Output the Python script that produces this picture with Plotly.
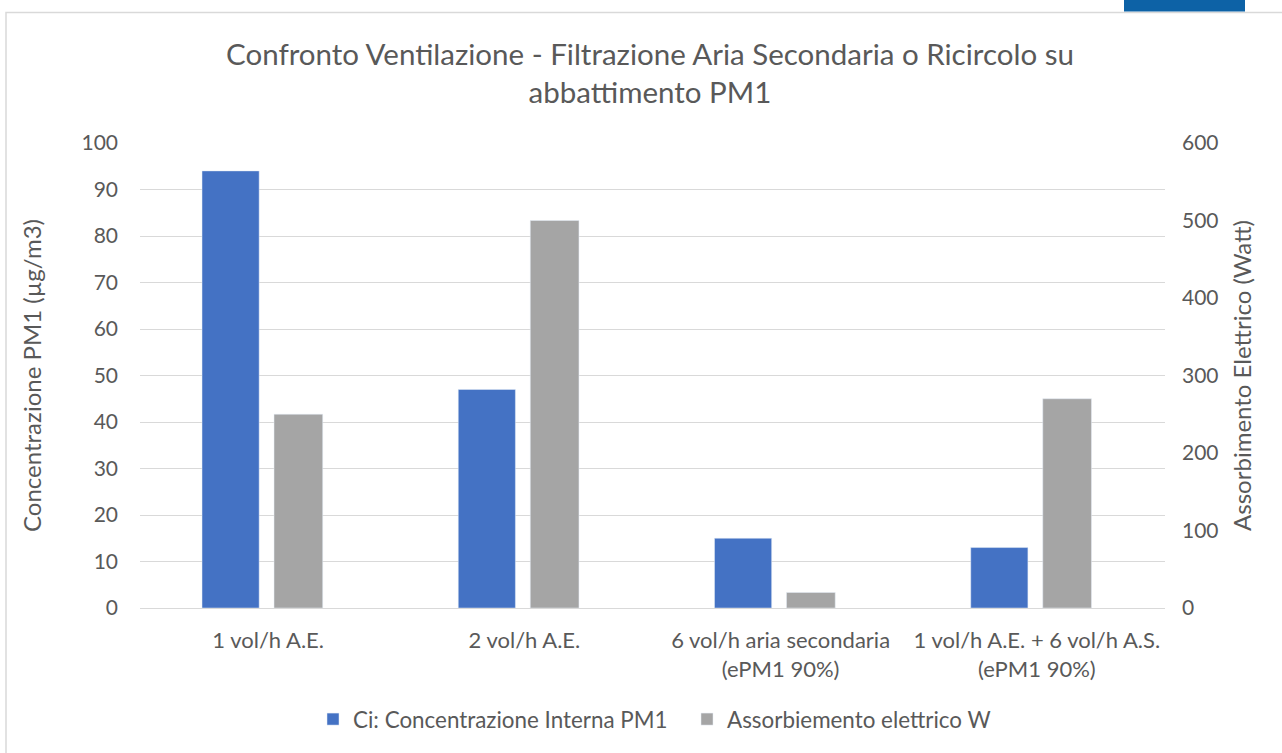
import plotly.graph_objects as go

categories = ["1 vol/h A.E.", "2 vol/h A.E.", "6 vol/h aria secondaria<br>(ePM1 90%)",
              "1 vol/h A.E. + 6 vol/h A.S.<br>(ePM1 90%)"]
conc_pm1 = [94, 47, 15, 13]
assorb_w = [250, 500, 20, 270]

FONT = "Lato"
GREY_TXT = "#595959"

# plot area in px (for paper-coordinate shapes)
L, R, T, B = 140, 1165, 143, 610
W, H = R - L, B - T


def px_x(x):
    return (x - L) / W


def px_y(y):
    return (B - y) / H


fig = go.Figure()

fig.add_trace(go.Bar(
    x=categories, y=conc_pm1, name="Ci: Concentrazione Interna PM1",
    marker_color="#4472c4", width=0.223, offset=-0.258, yaxis="y",
))
fig.add_trace(go.Bar(
    x=categories, y=assorb_w, name="Assorbiemento elettrico W",
    marker_color="#a5a5a5", width=0.19, offset=0.023, yaxis="y2",
))

fig.update_layout(
    width=1282, height=753,
    margin=dict(l=L, r=1282 - R, t=T, b=753 - B),
    paper_bgcolor="white", plot_bgcolor="white",
    font=dict(family=FONT, color=GREY_TXT, size=21),
    title=dict(
        text="Confronto Ventilazione - Filtrazione Aria Secondaria o Ricircolo su<br>abbattimento PM1",
        x=0.507, xanchor="center", y=0.914, yanchor="top",
        font=dict(size=29.5, color=GREY_TXT),
    ),
    xaxis=dict(showgrid=False, showline=True, linecolor="#d9d9d9", linewidth=1,
               ticks="", tickfont=dict(size=22), ticklabelstandoff=13),
    yaxis=dict(range=[0, 100], dtick=10, gridcolor="#d9d9d9", zeroline=False,
               showline=False, ticks="", tickfont=dict(size=21), ticklabelstandoff=21,
               title=dict(text="Concentrazione PM1 (µg/m3)", font=dict(size=24), standoff=33)),
    yaxis2=dict(range=[0, 600], dtick=100, overlaying="y", side="right",
                showgrid=False, zeroline=False, ticks="", tickfont=dict(size=21),
                ticklabelstandoff=16,
                title=dict(text="Assorbimento Elettrico (Watt)", font=dict(size=24), standoff=16)),
    legend=dict(orientation="h", x=px_x(313), xanchor="left", y=px_y(722), yanchor="middle",
                font=dict(size=22.4), itemwidth=30, entrywidth=329),
    showlegend=True,
    shapes=[
        dict(type="rect", xref="paper", yref="paper",
             x0=px_x(6), x1=px_x(1290), y0=px_y(760), y1=px_y(12),
             line=dict(color="#d9d9d9", width=1.5), fillcolor="rgba(0,0,0,0)", layer="below"),
        dict(type="rect", xref="paper", yref="paper",
             x0=px_x(1124), x1=px_x(1245), y0=px_y(11), y1=px_y(-2),
             line=dict(width=0), fillcolor="#0d62a6"),
    ],
)

fig.write_html("out.html", config={"displayModeBar": False},
               post_script="document.body.style.margin='0';")
